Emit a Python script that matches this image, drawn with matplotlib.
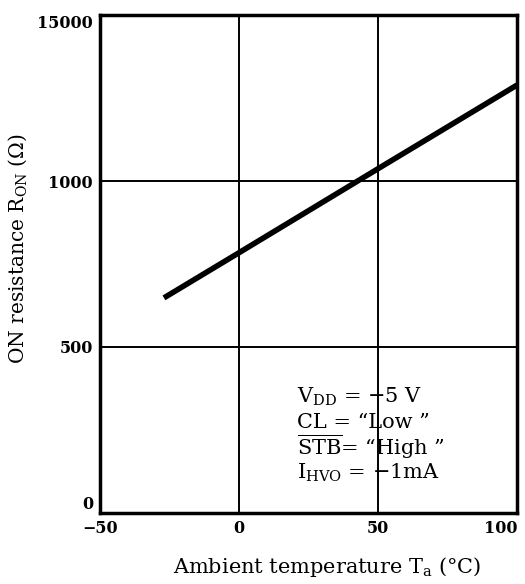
import matplotlib
matplotlib.use("Agg")
import matplotlib.pyplot as plt

plt.rcParams["font.family"] = ["DejaVu Serif"]
plt.rcParams["mathtext.fontset"] = "custom"
plt.rcParams["mathtext.rm"] = "DejaVu Serif"
plt.rcParams["mathtext.it"] = "DejaVu Serif:italic"

# data
temp_c = [-27, 0, 50, 100]
r_on = [648, 784, 1037, 1289]

x_ticks = [-50, 0, 50, 100]
x_labels = ["\u221250", "0", "50", "100"]
y_ticks = [0, 500, 1000, 1500]
y_labels = ["0", "500", "1000", "15000"]  # sic, as printed

conditions = [
    "V$_{\\rm DD}$ = \u22125 V",
    "CL = \u201cLow \u201d",
    "$\\overline{\\rm STB}$= \u201cHigh \u201d",
    "I$_{\\rm HVO}$ = \u22121mA",
]

fig = plt.figure(figsize=(5.25, 5.84), dpi=100)
ax = fig.add_axes([0.1905, 0.1216, 0.7943, 0.8527])

ax.plot(temp_c, r_on, color="black", lw=4, solid_capstyle="butt")

ax.set_xlim(-50, 100)
ax.set_ylim(0, 1500)
ax.set_xticks(x_ticks)
ax.set_xticklabels(x_labels)
ax.set_yticks(y_ticks)
ax.set_yticklabels(y_labels)
ax.tick_params(length=0, pad=5)
for lbl in ax.get_xticklabels() + ax.get_yticklabels():
    lbl.set_fontweight("bold")
    lbl.set_fontsize(11.5)
# the printed end labels sit inside the frame a little
ax.get_yticklabels()[0].set_va("bottom")
ax.get_yticklabels()[-1].set_va("top")
ax.get_xticklabels()[-1].set_ha("right")

ax.grid(True, color="black", lw=1.4)
for spine in ax.spines.values():
    spine.set_linewidth(2.5)

ax.set_xlabel("Ambient temperature T$_{\\rm a}$ (\u00b0C)", fontsize=15)
ax.xaxis.set_label_coords(0.545, -0.085)
ax.set_ylabel("ON resistance R$_{\\rm ON}$ (\u03a9)", fontsize=14.5)
ax.yaxis.set_label_coords(-0.17, 0.53)

for i, line in enumerate(conditions):
    ax.text(0.472, 0.233 - i * 0.0505, line,
            transform=ax.transAxes, fontsize=15, va="center", ha="left")

fig.savefig("out.png", dpi=100, facecolor="white")
